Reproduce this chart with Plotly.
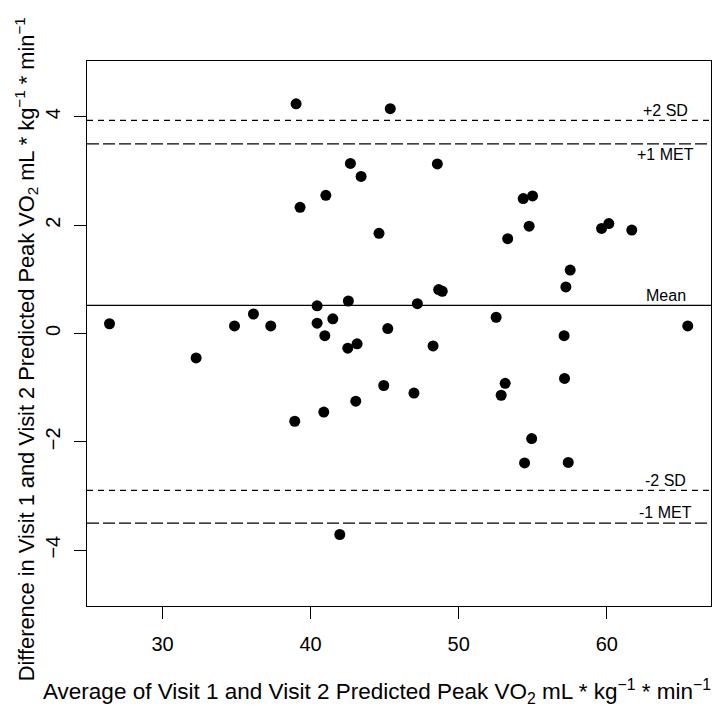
import plotly.graph_objects as go

# Average of visit 1 and visit 2 (x) and difference (y)
avg_vo2 = [26.42, 32.27, 34.86, 36.14, 37.31, 38.93, 39.02, 39.29, 40.44, 40.44,
           40.89, 40.96, 41.03, 41.50, 41.97, 42.55, 42.51, 42.69, 43.05, 43.14,
           43.41, 44.62, 44.94, 45.21, 45.38, 46.98, 47.21, 48.27, 48.56, 48.65,
           48.89, 52.53, 52.87, 53.14, 53.31, 54.36, 54.45, 54.76, 54.93, 54.99,
           57.12, 57.15, 57.24, 57.40, 57.53, 59.65, 60.14, 61.69, 65.47]
diff_vo2 = [0.18, -0.45, 0.14, 0.36, 0.14, -1.62, 4.24, 2.33, 0.51, 0.19,
            -1.45, -0.04, 2.55, 0.27, -3.71, 0.60, -0.27, 3.14, -1.25, -0.19,
            2.90, 1.85, -0.96, 0.09, 4.15, -1.10, 0.55, -0.23, 3.13, 0.81,
            0.78, 0.30, -1.14, -0.92, 1.75, 2.49, -2.39, 1.98, -1.94, 2.54,
            -0.04, -0.83, 0.86, -2.38, 1.17, 1.94, 2.03, 1.91, 0.14]

# Reference lines
ref_names = ["+2 SD", "+1 MET", "Mean", "-2 SD", "-1 MET"]
ref_values = [3.935, 3.5, 0.52, -2.895, -3.5]
ref_label_x = 64

x_ticks = [30, 40, 50, 60]
y_ticks = [-4, -2, 0, 2, 4]

x_title = "Average of Visit 1 and Visit 2 Predicted Peak VO<sub>2</sub> mL * kg<sup>−1</sup> * min<sup>−1</sup>"
y_title = "Difference in Visit 1 and Visit 2 Predicted Peak VO<sub>2</sub> mL * kg<sup>−1</sup> * min<sup>−1</sup>"

FONT = "Liberation Sans, Arial, sans-serif"

fig = go.Figure()
fig.add_trace(go.Scatter(
    x=avg_vo2, y=diff_vo2, mode="markers",
    marker=dict(color="black", size=11),
    showlegend=False, hoverinfo="x+y",
))

dash_styles = {"+2 SD": "6px,5px", "-2 SD": "6px,5px",
               "+1 MET": "12px,4px", "-1 MET": "12px,4px", "Mean": "solid"}
label_shift = {"+2 SD": 10, "+1 MET": -11, "Mean": 10, "-2 SD": 10, "-1 MET": 11}

for name, val in zip(ref_names, ref_values):
    fig.add_shape(type="line", xref="paper", x0=0, x1=1, yref="y", y0=val, y1=val,
                  line=dict(color="black", width=1.3, dash=dash_styles[name]),
                  layer="below")
    fig.add_annotation(x=ref_label_x, y=val, text=name, showarrow=False,
                       xanchor="center", yanchor="middle", yshift=label_shift[name],
                       font=dict(family=FONT, size=16, color="black"))

# Axis titles as annotations for exact placement
fig.add_annotation(xref="paper", yref="paper", x=0.4647, y=-0.156, text=x_title,
                   showarrow=False, xanchor="center", yanchor="middle",
                   font=dict(family=FONT, size=22.5, color="black"))
fig.add_annotation(xref="paper", yref="paper", x=-0.097, y=0.472, text=y_title,
                   showarrow=False, xanchor="center", yanchor="middle", textangle=-90,
                   font=dict(family=FONT, size=21.8, color="black"))

# The page body adds an 8px offset, so the figure is sized to fit the window
fig.update_layout(
    width=716, height=701,
    margin=dict(l=79, r=13, t=53, b=103),
    paper_bgcolor="white", plot_bgcolor="white",
    font=dict(family=FONT, color="black"),
    xaxis=dict(
        range=[24.9, 67.04], tickvals=x_ticks, ticks="outside", ticklen=12,
        tickwidth=1, tickcolor="black", showgrid=False, zeroline=False,
        showline=True, linecolor="black", linewidth=1.3, mirror=True,
        tickfont=dict(family=FONT, size=20), ticklabelstandoff=8,
        automargin=False,
    ),
    yaxis=dict(
        range=[-5.03, 5.03], tickvals=y_ticks,
        ticks="outside", ticklen=12, tickwidth=1, tickcolor="black",
        showgrid=False, zeroline=False, tickangle=-90,
        showline=True, linecolor="black", linewidth=1.3, mirror=True,
        tickfont=dict(family=FONT, size=20), ticklabelstandoff=6,
        automargin=False,
    ),
)

fig.write_html("out.html")
